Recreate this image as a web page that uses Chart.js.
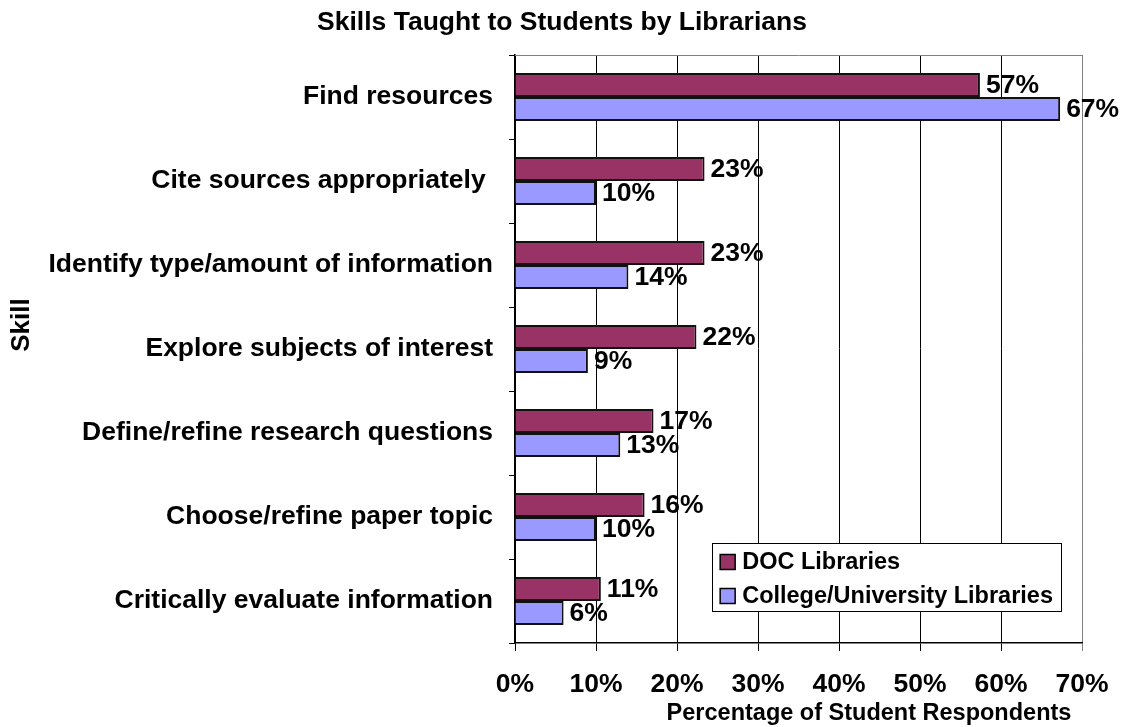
<!DOCTYPE html>
<html>
<head>
<meta charset="utf-8">
<title>Skills Taught to Students by Librarians</title>
<script src="https://cdn.jsdelivr.net/npm/chart.js@4.4.0/dist/chart.umd.min.js"></script>
<style>
    html, body { margin: 0; padding: 0; background: #ffffff; }
    #wrap { width: 1124px; height: 727px; }
</style>
</head>
<body>
<div id="wrap"><canvas id="skillsChart" width="1124" height="727"></canvas></div>
<script>
// ===================================
// Data
// ===================================
const skills = [
    'Find resources',
    'Cite sources appropriately ',
    'Identify type/amount of information',
    'Explore subjects of interest',
    'Define/refine research questions',
    'Choose/refine paper topic',
    'Critically evaluate information'
];
const docValues = [57.4, 23.4, 23.4, 22.4, 17.1, 16.0, 10.6];
const collegeValues = [67.3, 10.0, 14.0, 9.0, 13.0, 10.0, 6.0];
const seriesNames = ['DOC Libraries', 'College/University Libraries'];
const xTicks = [0, 10, 20, 30, 40, 50, 60, 70];

const FONT = "'Liberation Sans', Arial, Helvetica, sans-serif";

// ===================================
// Small drawing plugins
// ===================================

// grey top edge of the plot area
const plotFrame = {
    id: 'plotFrame',
    beforeDatasetsDraw(chart) {
        const a = chart.chartArea, ctx = chart.ctx;
        ctx.save();
        ctx.strokeStyle = '#808080';
        ctx.lineWidth = 1;
        ctx.beginPath();
        ctx.moveTo(a.left, Math.round(a.top) + 0.5);
        ctx.lineTo(a.right, Math.round(a.top) + 0.5);
        ctx.stroke();
        ctx.restore();
    }
};

// percentage labels at the end of every bar
const valueLabels = {
    id: 'valueLabels',
    afterDatasetsDraw(chart) {
        const ctx = chart.ctx;
        ctx.save();
        ctx.font = 'bold 26.5px ' + FONT;
        ctx.fillStyle = '#000';
        ctx.textAlign = 'left';
        ctx.textBaseline = 'middle';
        chart.data.datasets.forEach((ds, i) => {
            chart.getDatasetMeta(i).data.forEach((bar, j) => {
                ctx.fillText(Math.round(ds.data[j]) + '%', bar.x + 6, bar.y + 1);
            });
        });
        ctx.restore();
    }
};

// legend box inside the plot, lower right
const boxLegend = {
    id: 'boxLegend',
    afterDraw(chart) {
        const ctx = chart.ctx, a = chart.chartArea;
        ctx.save();
        ctx.font = 'bold 23.5px ' + FONT;
        let textW = 0;
        chart.data.datasets.forEach(ds => { textW = Math.max(textW, ctx.measureText(ds.label).width); });
        const w = 8 + 15 + 7 + textW + 8;
        const h = 68;
        const right = a.right - 21;
        const bottom = a.bottom - 32;
        const left = right - w, top = bottom - h;
        ctx.fillStyle = '#fff';
        ctx.fillRect(left, top, w, h);
        ctx.strokeStyle = '#000';
        ctx.lineWidth = 1;
        ctx.strokeRect(Math.round(left) + 0.5, Math.round(top) + 0.5, Math.round(w), Math.round(h));
        chart.data.datasets.forEach((ds, i) => {
            const cy = top + 19 + i * 34;
            ctx.fillStyle = ds.backgroundColor;
            ctx.fillRect(left + 8, cy - 7.5, 15, 15);
            ctx.strokeStyle = '#000';
            ctx.lineWidth = 1.5;
            ctx.strokeRect(left + 8, cy - 7.5, 15, 15);
            ctx.fillStyle = '#000';
            ctx.textAlign = 'left';
            ctx.textBaseline = 'middle';
            ctx.fillText(ds.label, left + 30, cy + 1);
        });
        ctx.restore();
    }
};

// chart title and axis titles placed where the original has them
const titles = {
    id: 'titles',
    afterDraw(chart) {
        const ctx = chart.ctx;
        ctx.save();
        ctx.fillStyle = '#000';
        ctx.textAlign = 'center';
        ctx.textBaseline = 'middle';
        ctx.font = 'bold 26.5px ' + FONT;
        ctx.fillText('Skills Taught to Students by Librarians', 562, 23);
        ctx.font = 'bold 23.5px ' + FONT;
        ctx.fillText('Percentage of Student Respondents', 869, 714);
        ctx.translate(22, 325);
        ctx.rotate(-Math.PI / 2);
        ctx.font = 'bold 26px ' + FONT;
        ctx.fillText('Skill', 0, 0);
        ctx.restore();
    }
};

// ===================================
// Chart
// ===================================
const ctx = document.getElementById('skillsChart').getContext('2d');

new Chart(ctx, {
    type: 'bar',
    data: {
        labels: skills,
        datasets: [
            {
                label: seriesNames[0],
                data: docValues,
                backgroundColor: '#993366',
                borderColor: '#111111',
                borderWidth: 2,
                categoryPercentage: 0.57,
                barPercentage: 1.0
            },
            {
                label: seriesNames[1],
                data: collegeValues,
                backgroundColor: '#9999FF',
                borderColor: '#111111',
                borderWidth: 2,
                categoryPercentage: 0.57,
                barPercentage: 1.0
            }
        ]
    },
    options: {
        indexAxis: 'y',
        responsive: false,
        animation: false,
        layout: { padding: { left: 0, right: 42, top: 55, bottom: 0 } },
        plugins: {
            legend: { display: false },
            tooltip: { enabled: false },
            title: { display: false }
        },
        scales: {
            x: {
                min: 0,
                max: 70,
                afterBuildTicks: scale => { scale.ticks = xTicks.map(v => ({ value: v })); },
                afterFit: scale => {
                    scale.height = 84;
                    scale.paddingLeft = 0;
                    scale.paddingRight = 0;
                },
                ticks: {
                    color: '#000',
                    padding: 18,
                    maxRotation: 0,
                    font: { family: FONT, size: 26.5, weight: 'bold' },
                    callback: v => v + '%'
                },
                grid: {
                    color: c => (c.index === xTicks.length - 1 ? '#808080' : '#000'),
                    lineWidth: 1,
                    tickLength: 8
                },
                border: { color: '#000', width: 1.5 }
            },
            y: {
                afterFit: scale => { scale.width = 515; },
                ticks: {
                    color: '#000',
                    padding: 16,
                    font: { family: FONT, size: 26.5, weight: 'bold' }
                },
                grid: {
                    offset: true,
                    drawOnChartArea: false,
                    color: '#000',
                    tickLength: 6
                },
                border: { color: '#000', width: 1.5 }
            }
        }
    },
    plugins: [plotFrame, valueLabels, boxLegend, titles]
});
</script>
</body>
</html>
